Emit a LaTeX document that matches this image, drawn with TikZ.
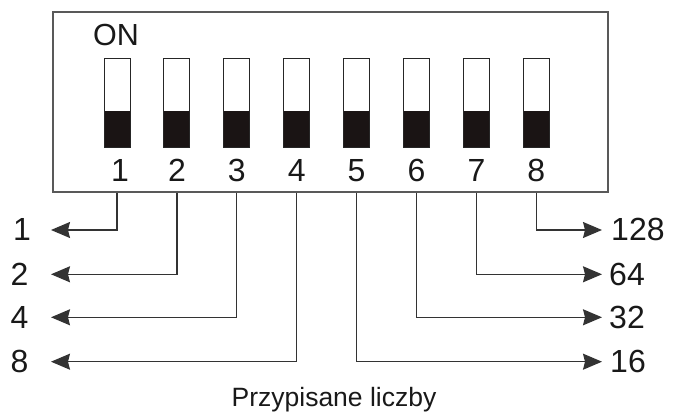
\documentclass[tikz,border=0pt]{standalone}
\usepackage{fontspec}
\setmainfont{Liberation Sans}
\usetikzlibrary{arrows.meta}
\definecolor{knobc}{HTML}{1A1414}
\begin{document}
\begin{tikzpicture}[x=1pt,y=1pt,
  box/.style={draw=black!65, line width=1.6pt, inner sep=0pt, minimum width=555pt, minimum height=180pt},
  sw/.style={draw=black!85, line width=0.9pt, minimum width=26pt, minimum height=89pt, inner sep=0pt,
    path picture={\fill[knobc] (path picture bounding box.south west) rectangle ([yshift=37pt]path picture bounding box.south east);}},
  num/.style={font=\fontsize{32}{32}\selectfont, inner sep=0pt, text=black!90},
  captiontext/.style={font=\fontsize{26.5}{26.5}\selectfont, inner sep=0pt, text=black!90},
  wire/.style={draw=black!80, line width=1.2pt, -{Stealth[length=19pt,width=16pt,inset=2pt]}},
]
\useasboundingbox (0,0) rectangle (674,412);
\node[box, anchor=south west] (box) at (52,219) {};
\node[num, anchor=base west, font=\fontsize{30.5}{30.5}\selectfont] (on) at (93,366) {ON};
\foreach \i in {1,...,8}{
  \pgfmathsetmacro{\xx}{117+59.9*(\i-1)}
  \node[sw] (s\i) at (\xx,308.8) {};
}
\foreach \i in {2,...,8}{
  \node[num, anchor=base] (n\i) at (s\i |- 0,230) {\i};
}
\node[num, anchor=base, xshift=3pt] (n1) at (s1 |- 0,230) {1};
% tips
\coordinate (tL1) at (51,182);
\coordinate (tL2) at (51,137.7);
\coordinate (tL3) at (51,94.7);
\coordinate (tL4) at (51,50.3);
\coordinate (tR8) at (602,182);
\coordinate (tR7) at (602,137.7);
\coordinate (tR6) at (602,94.7);
\coordinate (tR5) at (602,50.3);
% left labels
\node[num, anchor=base east] (v1) at (31,171) {1};
\node[num, anchor=base east] (v2) at (28.5,126.7) {2};
\node[num, anchor=base east] (v4) at (28.5,83.7) {4};
\node[num, anchor=base east] (v8) at (28.5,39.3) {8};
% right labels
\node[num, anchor=base west] (v128) at (611,171) {128};
\node[num, anchor=base west] (v64) at (609,126.7) {64};
\node[num, anchor=base west] (v32) at (609,83.7) {32};
\node[num, anchor=base west] (v16) at (610,39.3) {16};
% wires
\draw[wire] (s1 |- box.south) |- (tL1);
\draw[wire] (s2 |- box.south) |- (tL2);
\draw[wire] (s3 |- box.south) |- (tL3);
\draw[wire] (s4 |- box.south) |- (tL4);
\draw[wire] (s8 |- box.south) |- (tR8);
\draw[wire] (s7 |- box.south) |- (tR7);
\draw[wire] (s6 |- box.south) |- (tR6);
\draw[wire] (s5 |- box.south) |- (tR5);
\node[captiontext, anchor=base] (caption) at (334,5.3) {Przypisane liczby};
\end{tikzpicture}
\end{document}
